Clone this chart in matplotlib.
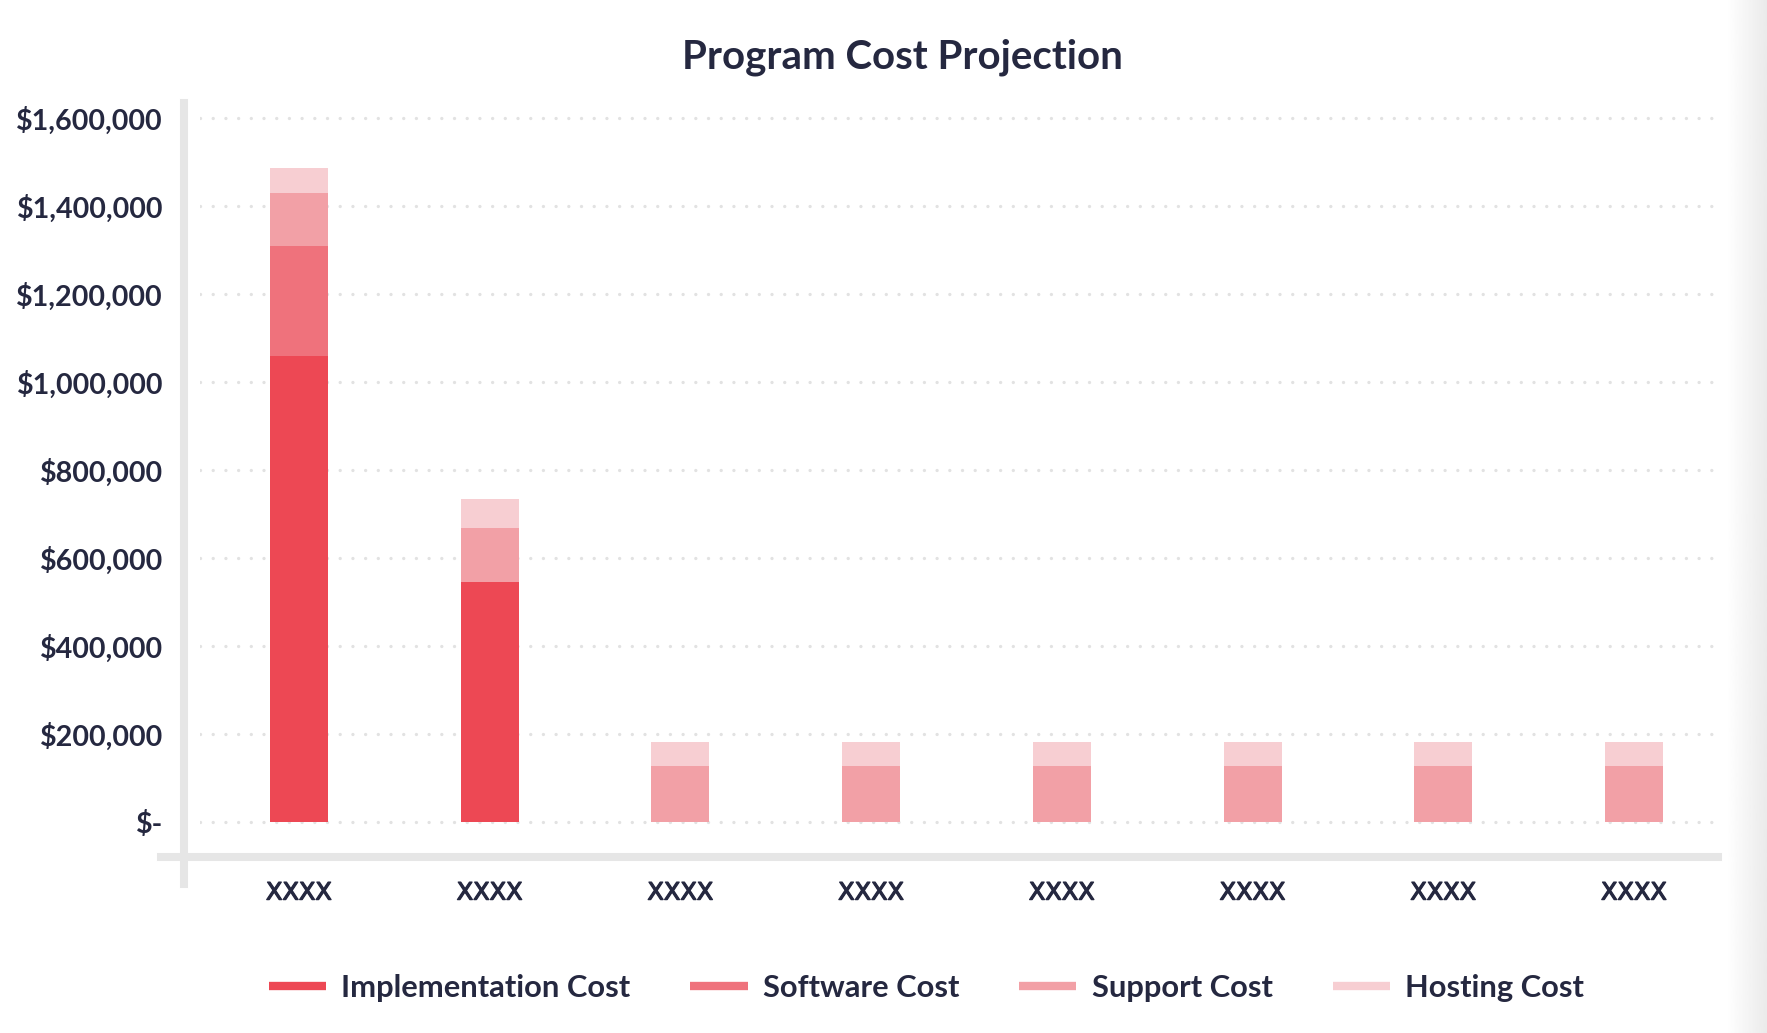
# IMPORTS
import matplotlib.pyplot as plt
import matplotlib.patheffects as pe
from matplotlib.lines import Line2D
import numpy as np

# DATA
categories = ["XXXX", "XXXX", "XXXX", "XXXX", "XXXX", "XXXX", "XXXX", "XXXX"]
implementation = [1060000, 546000, 0, 0, 0, 0, 0, 0]
software = [250000, 0, 0, 0, 0, 0, 0, 0]
support = [119000, 122000, 127000, 127000, 127000, 127000, 127000, 127000]
hosting = [57000, 65000, 55000, 55000, 55000, 55000, 55000, 55000]

series_names = ["Implementation Cost", "Software Cost", "Support Cost", "Hosting Cost"]
series_values = [implementation, software, support, hosting]

y_ticks = [0, 200000, 400000, 600000, 800000, 1000000, 1200000, 1400000, 1600000]

# COLORS
color_list = ["#ED4854", "#EF727C", "#F2A0A6", "#F7CED2"]
text_color = "#252840"
axis_color = "#E6E6E6"
grid_color = "#E2E2E2"

# FIGURE
W, H = 1767, 1033
fig = plt.figure(figsize=(W / 100, H / 100), dpi=100)
fig.patch.set_facecolor("white")

# shadow band at the right edge
shade = fig.add_axes([1726 / W, 0, (W - 1726) / W, 1])
grad = np.linspace(1.0, 0.92, 50).reshape(1, -1)
shade.imshow(grad, cmap="gray", vmin=0, vmax=1, aspect="auto", extent=[0, 1, 0, 1])
shade.axis("off")

ax = fig.add_axes([200 / W, (H - 857) / H, 1520 / W, 754 / H])
ax.set_facecolor("none")

x = np.arange(len(categories))
bottom = np.zeros(len(categories))
for name, vals, color in zip(series_names, series_values, color_list):
    ax.bar(x, vals, width=0.304, bottom=bottom, color=color, linewidth=0, zorder=3)
    bottom += np.array(vals)

ax.set_xlim(-0.519, 7.451)
ax.set_ylim(-79545, 1634091)

# TICKS
def money(v):
    if v == 0:
        return "$-"
    return "${:,.0f}".format(v)

ax.set_yticks(y_ticks)
ax.set_yticklabels([money(v) for v in y_ticks], fontfamily="Lato", fontweight="bold",
                   fontsize=20.6, color=text_color)
ax.set_xticks(x)
ax.set_xticklabels(categories, fontfamily="DejaVu Sans", fontsize=17.3, color=text_color)
for t in ax.get_xticklabels():
    t.set_path_effects([pe.withStroke(linewidth=0.9, foreground=text_color)])
ax.tick_params(axis="y", length=0, pad=26.6)
ax.tick_params(axis="x", length=0, pad=17)

for s in ax.spines.values():
    s.set_visible(False)

# dotted grid
for v in y_ticks:
    ax.axhline(v, color=grid_color, linewidth=2.4, linestyle=(0, (0.01, 3.8)),
               dash_capstyle="round", zorder=1)

# AXIS LINES
fig.add_artist(Line2D([184 / W, 184 / W], [(H - 103) / H, (H - 884) / H],
                      transform=fig.transFigure, color=axis_color, linewidth=5.8))
fig.add_artist(Line2D([161 / W, 1718 / W], [(H - 857) / H, (H - 857) / H],
                      transform=fig.transFigure, color=axis_color, linewidth=5.8))

# TITLE
fig.text(902.7 / W, (H - 68) / H, "Program Cost Projection", ha="center", va="baseline",
         fontfamily="Lato", fontweight="bold", fontsize=29, color=text_color)

# LEGEND
handles = [Line2D([0], [0], color=c, linewidth=6, solid_capstyle="butt") for c in color_list]
leg = fig.legend(handles, series_names, loc="center", bbox_to_anchor=(926.5 / W, (H - 988) / H),
                 ncol=4, frameon=False, handlelength=1.85, handletextpad=0.5,
                 columnspacing=1.95, prop={"family": "Lato", "weight": "bold", "size": 22.2})
for t in leg.get_texts():
    t.set_color(text_color)

plt.savefig("out.png", dpi=100)
